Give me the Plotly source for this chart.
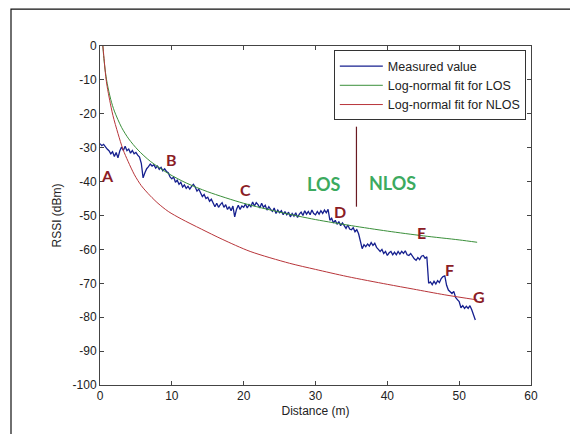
import numpy as np
import plotly.graph_objects as go

# Measured RSSI, sampled every 0.25 m from 0 m
measured_rssi = [
    -28.8, -29.4, -29.0, -29.8,
    -30.4, -30.9, -31.8, -31.2,
    -32.6, -31.4, -33.0, -31.0,
    -29.8, -30.8, -29.6, -30.9,
    -30.4, -31.6, -30.8, -31.8,
    -31.4, -32.2, -32.8, -34.6,
    -38.9, -37.4, -36.2, -35.6,
    -34.8, -35.4, -35.0, -36.0,
    -35.4, -36.4, -35.8, -36.8,
    -36.2, -37.0, -37.4, -38.6,
    -39.2, -38.6, -40.2, -39.6,
    -40.8, -40.2, -41.6, -41.0,
    -42.0, -41.4, -42.2, -41.4,
    -40.8, -41.6, -42.8, -42.2,
    -43.6, -44.4, -43.8, -45.0,
    -44.6, -45.8, -45.2, -46.6,
    -47.4, -46.4, -47.6, -46.8,
    -46.2, -47.6, -46.8, -48.2,
    -47.4, -48.6, -47.2, -50.4,
    -48.2, -47.0, -48.2, -47.2,
    -47.6, -46.6, -47.8, -46.8,
    -47.4, -46.0, -47.2, -46.2,
    -46.8, -47.8, -46.4, -47.6,
    -47.0, -48.4, -47.4, -48.2,
    -48.8, -47.8, -49.4, -48.4,
    -49.2, -48.6, -49.8, -48.8,
    -49.8, -49.0, -50.4, -49.4,
    -50.2, -49.2, -50.6, -49.6,
    -49.0, -50.0, -48.6, -49.6,
    -48.8, -49.8, -48.4, -49.4,
    -49.8, -48.8, -49.6, -48.6,
    -49.4, -48.4, -49.2, -48.2,
    -51.4, -50.8, -52.2, -51.4,
    -52.6, -51.8, -53.0, -52.2,
    -53.2, -53.8, -52.8, -54.0,
    -54.2, -53.6, -54.8, -54.2,
    -55.4, -57.8, -59.8, -58.6,
    -59.2, -58.4, -59.0, -58.0,
    -58.8, -58.2, -59.4, -60.0,
    -60.6, -60.0, -61.2, -60.6,
    -61.8, -61.0, -60.6, -61.6,
    -60.8, -61.6, -60.6, -61.4,
    -60.6, -61.2, -60.4, -61.6,
    -61.8, -61.2, -62.2, -62.8,
    -63.2, -62.4, -63.0, -62.0,
    -61.8, -62.6, -62.2, -70.0,
    -69.6, -70.4, -69.4, -70.2,
    -69.2, -69.8, -68.6, -68.0,
    -67.8, -70.6, -72.0, -72.6,
    -73.0, -72.4, -74.2, -74.8,
    -75.4, -77.2, -76.6, -77.4,
    -76.8, -77.4, -76.6, -77.8,
    -79.6, -80.8,
]
measured_distance = list(np.arange(len(measured_rssi)) * 0.25)

# Log-normal fit for LOS
los_distance = [0.4, 0.5, 0.7, 1, 1.5, 2, 3, 4, 5.3, 7, 9.5, 12, 15, 20, 25, 30, 35, 40, 45, 50, 52.5]
los_rssi = [0, -2.8, -6.8, -11, -15.8, -19.2, -24, -27.4, -30.7, -34, -37.6, -40.4, -43, -46.4,
            -49, -51.2, -53, -54.6, -56, -57.2, -57.9]

# Log-normal fit for NLOS
nlos_distance = [0.4, 0.6, 0.8, 1, 1.35, 1.8, 2.5, 3.2, 3.9, 4.8, 5.75, 7, 8.07, 9.5, 11.3, 14.1,
                 17, 20.9, 26.4, 30, 34.4, 40, 43.6, 48, 52.5]
nlos_rssi = [0, -4.5, -9, -12, -16, -20.5, -25.8, -30.5, -34, -38, -41.2, -44.2, -46.4, -48.8,
             -51, -54, -57.0, -60.6, -64.1, -65.9, -68, -70.3, -71.7, -73.4, -74.9]

# Labels
point_labels = ["A", "B", "C", "D", "E", "F", "G"]
point_x = [1.1, 9.9, 20.3, 33.4, 44.8, 48.6, 52.8]
point_y = [-38.1, -33.6, -42.3, -48.9, -55.0, -65.8, -74.0]
region_labels = ["LOS", "NLOS"]
region_x = [31.1, 40.7]
region_y = [-40.7, -40.5]
divider_x = 35.7
divider_y = [-23.8, -47.4]

y_ticks = [0, -10, -20, -30, -40, -50, -60, -70, -80, -90, -100]
y_tick_text = ["0", "-10", "-20", "-30", "-40", "-50", "-60", "-70", "-80", "-90", "-100"]
x_ticks = [0, 10, 20, 30, 40, 50, 60]

FONT = "Arial, Liberation Sans, sans-serif"
LABEL_FONT = "Lato, Open Sans, sans-serif"
fig = go.Figure()
fig.add_trace(go.Scatter(x=measured_distance, y=measured_rssi, mode="lines",
                         line=dict(color="#16208f", width=1.3), name="Measured value"))
fig.add_trace(go.Scatter(x=los_distance, y=los_rssi, mode="lines",
                         line=dict(color="#3a8f3a", width=1, shape="spline", smoothing=0.8),
                         name="Log-normal fit for LOS"))
fig.add_trace(go.Scatter(x=nlos_distance, y=nlos_rssi, mode="lines",
                         line=dict(color="#b8353a", width=1, shape="spline", smoothing=0.8),
                         name="Log-normal fit for NLOS"))
fig.add_trace(go.Scatter(x=[divider_x, divider_x], y=divider_y, mode="lines",
                         line=dict(color="#6a1a22", width=1.2), showlegend=False, hoverinfo="skip"))

for t, x, y in zip(point_labels, point_x, point_y):
    fig.add_annotation(x=x, y=y, text="<b>%s</b>" % t, showarrow=False,
                       font=dict(family=LABEL_FONT, size=16, color="#8b1c26"))
for t, x, y in zip(region_labels, region_x, region_y):
    fig.add_annotation(x=x, y=y, text="<b>%s</b>" % t, showarrow=False,
                       font=dict(family=LABEL_FONT, size=18, color="#3caa5f"))

axis_common = dict(showline=True, linecolor="#444", linewidth=1, mirror="ticks",
                   ticks="inside", ticklen=4, tickcolor="#444", showgrid=False, zeroline=False,
                   tickfont=dict(family=FONT, size=12, color="#222"))
fig.update_xaxes(range=[0, 60], tickvals=x_ticks, title=dict(text="Distance (m)", standoff=4,
                 font=dict(family=FONT, size=12, color="#222")), **axis_common)
fig.update_yaxes(range=[-100, 0], tickvals=y_ticks, ticktext=y_tick_text,
                 title=dict(text="RSSI (dBm)", standoff=8, font=dict(family=FONT, size=12, color="#222")),
                 **axis_common)

# outer figure frame (top and left edges visible)
fig.add_shape(type="rect", xref="paper", yref="paper", x0=-0.2065, x1=1.3, y0=-0.3, y1=1.109,
              line=dict(color="#111", width=1.2), layer="below")

fig.update_layout(
    width=570, height=426,
    margin=dict(l=92, r=47, t=38, b=49),
    paper_bgcolor="white", plot_bgcolor="white",
    showlegend=True,
    legend=dict(x=0.988, y=0.987, xanchor="right", yanchor="top",
                bgcolor="white", bordercolor="#333", borderwidth=1,
                font=dict(family=FONT, size=12.5, color="#222"),
                tracegroupgap=0, itemwidth=43),
)
fig.write_html("out.html")
